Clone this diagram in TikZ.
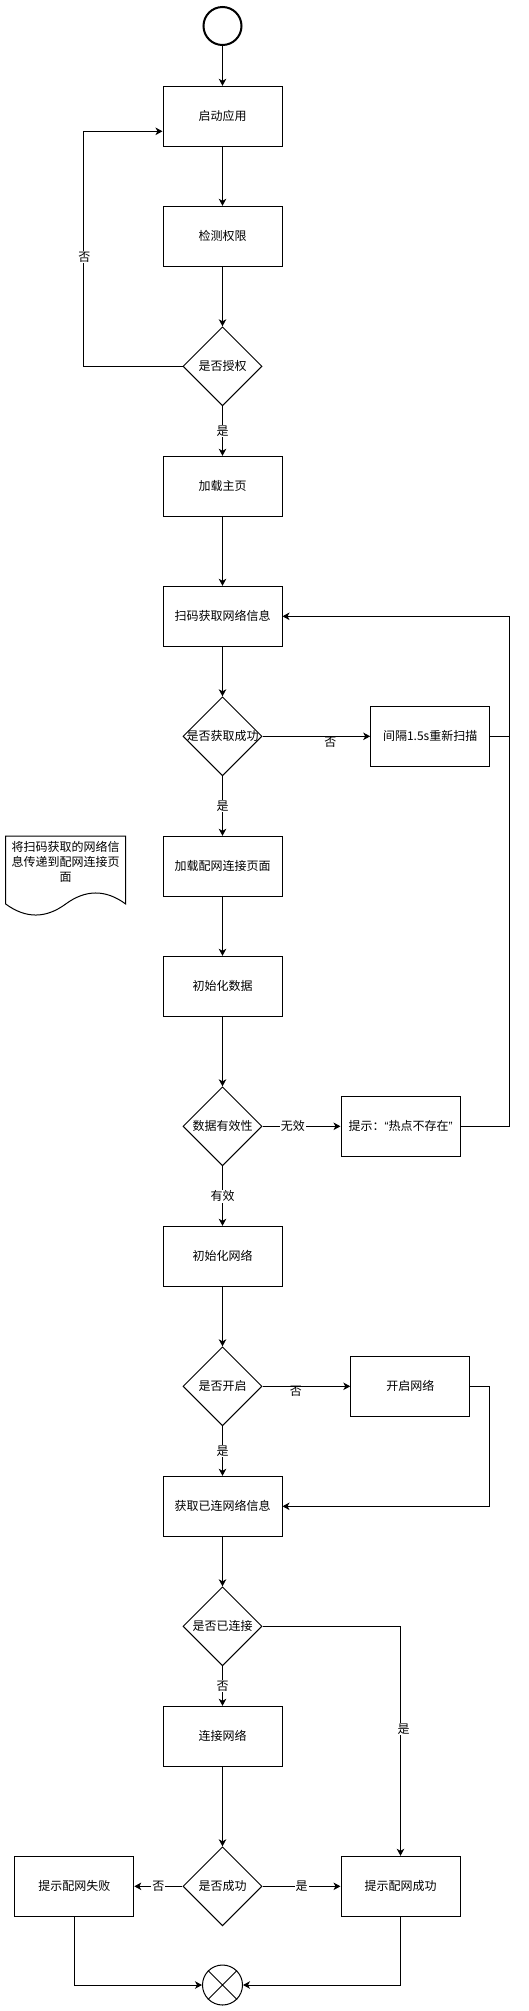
\documentclass[tikz,border=0pt]{standalone}
\usepackage{fontspec}
\setmainfont{Noto Sans CJK SC}
\newfontfamily\latq{Liberation Sans}
\usetikzlibrary{arrows.meta,shapes.geometric}
\tikzset{
  box/.style={draw=black, line width=1pt, rectangle, minimum width=119pt, minimum height=60pt, inner sep=0pt, fill=white},
  dia/.style={draw=black, line width=1pt, diamond, minimum width=79pt, minimum height=79pt, inner sep=0pt, fill=white},
  flow/.style={draw=black, line width=1pt, -{Stealth[length=7pt,width=7.5pt,inset=2pt]}},
  plain/.style={draw=black, line width=1pt},
  lab/.style={fill=white, inner sep=1pt, text=black},
  lab0/.style={inner sep=0pt, text=black},
}
\begin{document}
\begin{tikzpicture}[x=1pt, y=-1pt, font=\fontsize{12}{15}\selectfont]
\fill[white] (0,0) rectangle (529,2011);
\useasboundingbox (0,0) rectangle (529,2011);

% nodes
\node[draw=black, line width=2pt, circle, minimum size=38pt, inner sep=0pt] (start) at (222.5,26) {};
\node[box] (s1) at (222.5,116.3) {启动应用};
\node[box] (s2) at (222.5,236.3) {检测权限};
\node[dia, label={center:是否授权}] (d1) at (222.5,366.3) {};
\node[box] (s3) at (222.5,486.3) {加载主页};
\node[box] (s4) at (222.5,616.3) {扫码获取网络信息};
\node[dia, label={center:是否获取成功}] (d2) at (222.5,736.3) {};
\node[box] (r1) at (430.2,736.3) {间隔1.5s重新扫描};
\node[box] (s5) at (222.5,866.3) {加载配网连接页面};
\node[box] (s6) at (222.5,986.3) {初始化数据};
\node[dia, label={center:数据有效性}] (d3) at (222.5,1126.3) {};
\node[box] (r2) at (400.5,1126.3) {提示：{\latq “}热点不存在{\latq ”}};
\node[box] (s7) at (222.5,1256.3) {初始化网络};
\node[dia, label={center:是否开启}] (d4) at (222.5,1386.3) {};
\node[box] (r3) at (410.3,1386.3) {开启网络};
\node[box] (s8) at (222.5,1506.3) {获取已连网络信息};
\node[dia, label={center:是否已连接}] (d5) at (222.5,1626.3) {};
\node[box] (s9) at (222.5,1736.3) {连接网络};
\node[dia, label={center:是否成功}] (d6) at (222.5,1886.3) {};
\node[box] (r4) at (74.3,1886.3) {提示配网失败};
\node[box] (r5) at (400.5,1886.3) {提示配网成功};
\node[draw=black, line width=1pt, circle, minimum size=40pt, inner sep=0pt] (end) at (222.5,1985) {};
\draw[line width=0.8pt] (end.north west) -- (end.south east) (end.north east) -- (end.south west);

% document note
\draw[line width=1pt, fill=white] (5.7,836) -- (125.7,836) -- (125.7,904)
  .. controls (105.7,889.3) and (85.7,889.3) .. (65.7,904)
  .. controls (45.7,918.7) and (25.7,918.7) .. (5.7,904) -- cycle;
\node[align=center, inner sep=0pt] (note) at (65.7,862) {将扫码获取的网络信\\息传递到配网连接页\\面};

% connectors
\draw[flow] (start) -- (s1);
\draw[flow] (s1) -- (s2);
\draw[flow] (s2) -- (d1);
\draw[flow] (d1.west) -- ++(-99,0) |- ([yshift=-15pt]s1.west);
\node[lab] (l1) at (84.3,257) {否};
\draw[flow] (d1) -- node[lab] (l2) {是} (s3);
\draw[flow] (s3) -- (s4);
\draw[flow] (s4) -- (d2);
\draw[flow] (d2) -- node[lab0, pos=0.63, yshift=-6pt] (l3) {否} (r1);
\draw[flow] (r1.east) -- ++(19.7,0) |- (s4.east);
\draw[flow] (d2) -- node[lab] (l4) {是} (s5);
\draw[flow] (s5) -- (s6);
\draw[flow] (s6) -- (d3);
\draw[flow] (d3) -- node[lab, pos=0.39] (l5) {无效} (r2);
\draw[plain] (r2.east) -- ++(49.3,0) |- (r1.east);
\draw[flow] (d3) -- node[lab] (l6) {有效} (s7);
\draw[flow] (s7) -- (d4);
\draw[flow] (d4) -- node[lab0, pos=0.38, yshift=-5pt] (l7) {否} (r3);
\draw[flow] (r3.east) -- ++(19.6,0) |- (s8.east);
\draw[flow] (d4) -- node[lab] (l8) {是} (s8);
\draw[flow] (s8) -- (d5);
\draw[flow] (d5.east) -| node[lab, pos=0.724, xshift=3pt] (l9) {是} (r5.north);
\draw[flow] (d5) -- node[lab] (l10) {否} (s9);
\draw[flow] (s9) -- (d6);
\draw[flow] (d6) -- node[lab] (l11) {否} (r4);
\draw[flow] (d6) -- node[lab] (l12) {是} (r5);
\draw[flow] (r4.south) |- (end.west);
\draw[flow] (r5.south) |- (end.east);
\end{tikzpicture}
\end{document}
